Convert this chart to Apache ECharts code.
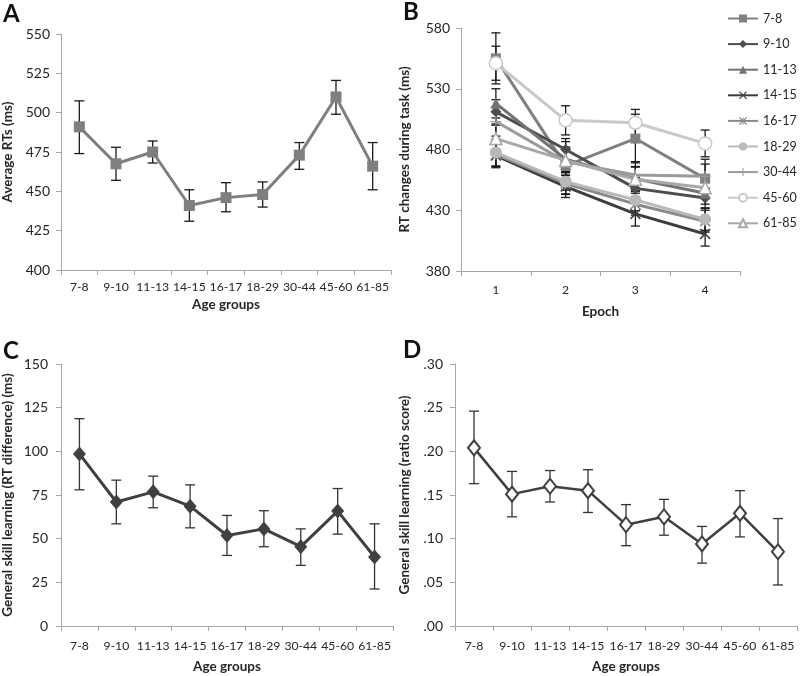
<!DOCTYPE html>
<html>
<head>
<meta charset="utf-8">
<script src="https://cdn.jsdelivr.net/npm/echarts@6/dist/echarts.min.js"></script>
<style>
html,body{margin:0;padding:0;background:#fff;}
#chart{width:800px;height:676px;}
</style>
</head>
<body>
<div id="chart"></div>
<script>
// ---------- DATA ----------
const ageGroups = ['7-8','9-10','11-13','14-15','16-17','18-29','30-44','45-60','61-85'];

// Panel A: average RTs
const avgRT     = [491, 467.5, 475, 441, 446, 448, 473, 510, 466];
const avgRTLow  = [474, 457, 468, 431, 437, 440, 464, 499, 451];
const avgRTHigh = [507.5, 478, 482, 451, 455.5, 456, 481, 520.5, 481];

// Panel B: RT changes across epochs
const epochs = ['1','2','3','4'];
const rt_7_8   = [555, 466.5, 489, 456];
const rt_9_10  = [511, 480, 448, 440];
const rt_11_13 = [518, 472, 456, 444];
const rt_14_15 = [475, 449.5, 427, 410.5];
const rt_16_17 = [476, 452, 435, 421];
const rt_18_29 = [477.5, 453.5, 438.5, 422.5];
const rt_30_44 = [503, 470, 459, 458];
const rt_45_60 = [551, 504, 502, 485];
const rt_61_85 = [489, 471, 455.5, 448.5];
// error half-widths
const se_7_8   = [21, 20, 20, 16];
const se_9_10  = [10, 9, 9, 8];
const se_11_13 = [12, 10, 10, 9];
const se_14_15 = [10, 9, 10, 10];
const se_16_17 = [10, 9, 9, 9];
const se_18_29 = [11, 10, 9, 9];
const se_30_44 = [12, 11, 11, 10];
const se_45_60 = [14, 12, 11, 11];
const se_61_85 = [11, 10, 10, 9];

// Panel C: general skill learning (RT difference)
const skillRT     = [98.5, 71, 76.8, 68.6, 51.8, 55.6, 45.4, 65.8, 39.5];
const skillRTLow  = [78, 58.5, 67.7, 56.2, 40.4, 45.4, 34.7, 52.6, 21.2];
const skillRTHigh = [118.7, 83.5, 85.8, 80.8, 63.3, 66, 55.6, 78.7, 58.5];

// Panel D: general skill learning (ratio score)
const skillRatio     = [0.204, 0.151, 0.160, 0.155, 0.116, 0.125, 0.094, 0.129, 0.085];
const skillRatioLow  = [0.163, 0.125, 0.142, 0.130, 0.092, 0.104, 0.072, 0.102, 0.047];
const skillRatioHigh = [0.246, 0.177, 0.178, 0.179, 0.139, 0.145, 0.114, 0.155, 0.123];

// ---------- STYLE ----------
const FONT = 'Lato';
const TXT = '#262626';
const AX = '#a6a6a6';

const epochGroups = [
  {name:'7-8',   v:rt_7_8,   se:se_7_8,   color:'#808080', symbol:'rect', size:10, fill:null},
  {name:'9-10',  v:rt_9_10,  se:se_9_10,  color:'#4d4d4d', symbol:'diamond', size:11, fill:null},
  {name:'11-13', v:rt_11_13, se:se_11_13, color:'#727272', symbol:'triangle', size:11, fill:null},
  {name:'14-15', v:rt_14_15, se:se_14_15, color:'#3d3d3d', symbol:'path://M0,1L1,0L5,4L9,0L10,1L6,5L10,9L9,10L5,6L1,10L0,9L4,5Z', size:11, fill:null},
  {name:'16-17', v:rt_16_17, se:se_16_17, color:'#8a8a8a', symbol:'path://M0,1L1,0L5,4L9,0L10,1L6,5L10,9L9,10L5,6L1,10L0,9L4,5ZM4.5,0H5.5V10H4.5Z', size:11, fill:null},
  {name:'18-29', v:rt_18_29, se:se_18_29, color:'#b9b9b9', symbol:'circle', size:12, fill:null},
  {name:'30-44', v:rt_30_44, se:se_30_44, color:'#9a9a9a', symbol:'path://M4.4,0H5.6V4.4H10V5.6H5.6V10H4.4V5.6H0V4.4H4.4Z', size:11, fill:null},
  {name:'45-60', v:rt_45_60, se:se_45_60, color:'#c9c9c9', symbol:'circle', size:13, fill:'#ffffff'},
  {name:'61-85', v:rt_61_85, se:se_61_85, color:'#a8a8a8', symbol:'triangle', size:12, fill:'#ffffff'}
];

function errSeries(xi, low, high, cap, color, z) {
  return {
    type:'custom', xAxisIndex:xi, yAxisIndex:xi, z:z||1, silent:true,
    data: low.map((l,i)=>[i, l, high[i]]),
    renderItem: function(params, api){
      const x = api.value(0);
      const lo = api.coord([x, api.value(1)]);
      const hi = api.coord([x, api.value(2)]);
      const h = cap/2;
      const st = {stroke:color, lineWidth:1.3};
      return {type:'group', children:[
        {type:'line', shape:{x1:lo[0],y1:lo[1],x2:hi[0],y2:hi[1]}, style:st},
        {type:'line', shape:{x1:lo[0]-h,y1:lo[1],x2:lo[0]+h,y2:lo[1]}, style:st},
        {type:'line', shape:{x1:hi[0]-h,y1:hi[1],x2:hi[0]+h,y2:hi[1]}, style:st}
      ]};
    }
  };
}

function catAxis(gi, data, margin, name, nameGap) {
  return {
    type:'category', gridIndex:gi, data:data, boundaryGap:true,
    axisLine:{lineStyle:{color:AX, width:1}},
    axisTick:{show:true, length:5, lineStyle:{color:AX}},
    axisLabel:{color:TXT, fontFamily:FONT, fontSize:12.2, margin:margin, interval:0},
    name:name, nameLocation:'middle', nameGap:nameGap,
    nameTextStyle:{color:TXT, fontFamily:FONT, fontSize:13.5, fontWeight:'bold'}
  };
}
function valAxis(gi, min, max, interval, margin, name, nameGap, fmt) {
  return {
    type:'value', gridIndex:gi, min:min, max:max, interval:interval,
    splitLine:{show:false},
    axisLine:{show:true, lineStyle:{color:AX, width:1}},
    axisTick:{show:true, length:5, lineStyle:{color:AX}},
    axisLabel:{color:TXT, fontFamily:FONT, fontSize:14, margin:margin, formatter:fmt},
    name:name, nameLocation:'middle', nameGap:nameGap, nameRotate:90,
    nameTextStyle:{color:TXT, fontFamily:FONT, fontSize:13.5, fontWeight:'bold'}
  };
}

const series = [];
// Panel A
series.push(errSeries(0, avgRTLow, avgRTHigh, 10, '#1a1a1a', 1));
series.push({type:'line', xAxisIndex:0, yAxisIndex:0, data:avgRT, z:3,
  lineStyle:{color:'#7f7f7f', width:3}, itemStyle:{color:'#7f7f7f'},
  symbol:'rect', symbolSize:11, showAllSymbol:true});
// Panel B
epochGroups.forEach(g=>{
  series.push(errSeries(1, g.v.map((v,i)=>v-g.se[i]), g.v.map((v,i)=>v+g.se[i]), 9, '#1a1a1a', 1));
});
epochGroups.forEach(g=>{
  series.push({type:'line', name:g.name, xAxisIndex:1, yAxisIndex:1, data:g.v, z:3,
    lineStyle:{color:g.color, width:3},
    itemStyle: g.fill ? {color:g.fill, borderColor:g.color, borderWidth:1.5} : {color:g.color},
    symbol:g.symbol, symbolSize:g.size, showAllSymbol:true});
});
// Panel C
series.push(errSeries(2, skillRTLow, skillRTHigh, 10, '#333333', 1));
series.push({type:'line', xAxisIndex:2, yAxisIndex:2, data:skillRT, z:3,
  lineStyle:{color:'#404040', width:3}, itemStyle:{color:'#404040'},
  symbol:'diamond', symbolSize:[13,15]});
// Panel D
series.push(errSeries(3, skillRatioLow, skillRatioHigh, 10, '#333333', 1));
series.push({type:'line', xAxisIndex:3, yAxisIndex:3, data:skillRatio, z:3,
  lineStyle:{color:'#404040', width:2.5}, itemStyle:{color:'#ffffff', borderColor:'#404040', borderWidth:2},
  symbol:'diamond', symbolSize:[12,15]});

const letter = (t, l, tp) => ({text:t, left:l, top:tp, padding:0,
  textStyle:{fontFamily:FONT, fontSize:24, fontWeight:'bold', color:'#111'}});

const option = {
  animation:false,
  backgroundColor:'#ffffff',
  title:[letter('A',3,2), letter('B',403,0), letter('C',3,339), letter('D',403,338)],
  legend:{
    data:epochGroups.map(g=>g.name), orient:'vertical', left:727, top:12, padding:0,
    itemWidth:30, itemHeight:10, itemGap:12.6,
    textStyle:{color:TXT, fontFamily:FONT, fontSize:12.5}, selectedMode:false
  },
  grid:[
    {left:58, top:34, width:333, height:236},
    {left:461, top:28, width:279, height:243},
    {left:58, top:364, width:335, height:262},
    {left:455, top:364, width:342, height:262}
  ],
  xAxis:[
    catAxis(0, ageGroups, 11, 'Age groups', 28),
    catAxis(1, epochs, 13, 'Epoch', 34),
    catAxis(2, ageGroups, 14, 'Age groups', 34),
    catAxis(3, ageGroups, 14, 'Age groups', 34)
  ],
  yAxis:[
    valAxis(0, 400, 550, 25, 11, 'Average RTs (ms)', 46),
    valAxis(1, 380, 580, 50, 11, 'RT changes during task (ms)', 49),
    valAxis(2, 0, 150, 25, 13, 'General skill learning (RT difference) (ms)', 46),
    valAxis(3, 0, 0.30, 0.05, 12, 'General skill learning (ratio score)', 43,
      v => v.toFixed(2).replace(/^0/, ''))
  ],
  series:series
};
const chart = echarts.init(document.getElementById('chart'), null, {renderer:'canvas'});
chart.setOption(option);
</script>
</body>
</html>
